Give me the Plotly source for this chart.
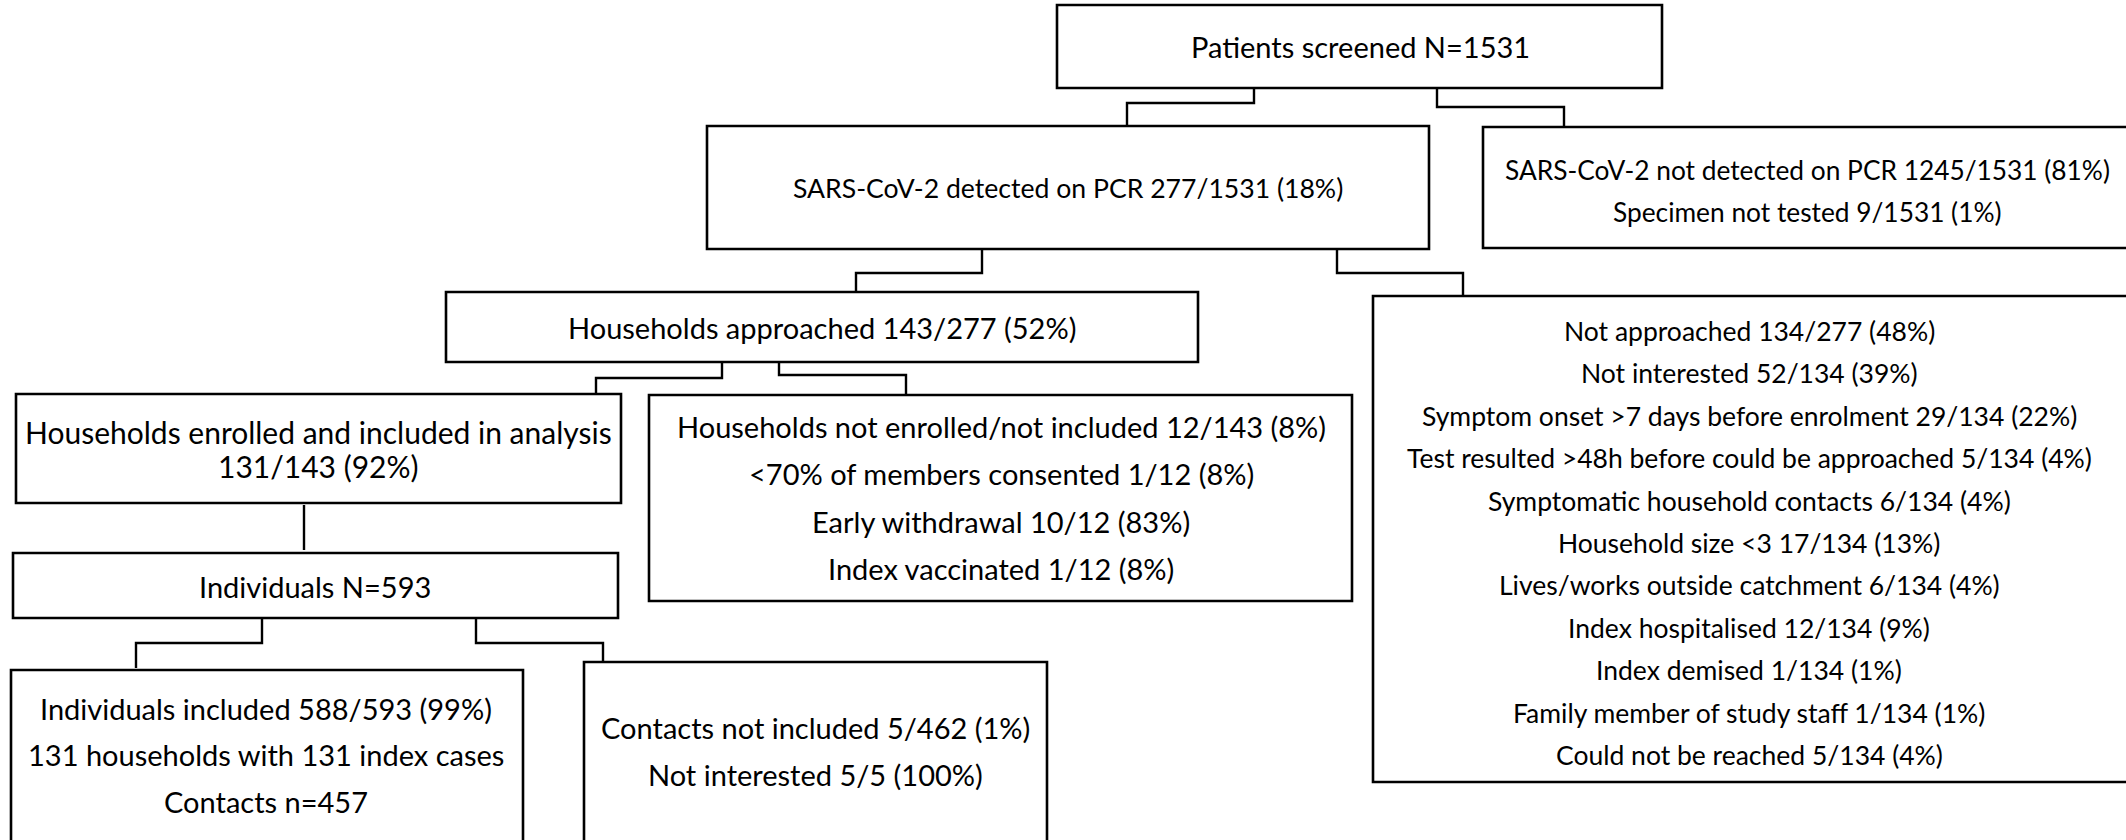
import plotly.graph_objects as go

# ---------------- text content (data) ----------------
screened_lines = ["Patients screened N=1531"]
detected_lines = ["SARS-CoV-2 detected on PCR 277/1531 (18%)"]
not_detected_lines = [
    "SARS-CoV-2 not detected on PCR 1245/1531 (81%)",
    "Specimen not tested 9/1531 (1%)",
]
approached_lines = ["Households approached 143/277 (52%)"]
not_approached_lines = [
    "Not approached 134/277 (48%)",
    "Not interested 52/134 (39%)",
    "Symptom onset >7 days before enrolment 29/134 (22%)",
    "Test resulted >48h before could be approached 5/134 (4%)",
    "Symptomatic household contacts 6/134 (4%)",
    "Household size <3 17/134 (13%)",
    "Lives/works outside catchment 6/134 (4%)",
    "Index hospitalised 12/134 (9%)",
    "Index demised 1/134 (1%)",
    "Family member of study staff 1/134 (1%)",
    "Could not be reached 5/134 (4%)",
]
enrolled_lines = ["Households enrolled and included in analysis", "131/143 (92%)"]
not_enrolled_lines = [
    "Households not enrolled/not included 12/143 (8%)",
    "<70% of members consented 1/12 (8%)",
    "Early withdrawal 10/12 (83%)",
    "Index vaccinated 1/12 (8%)",
]
individuals_lines = ["Individuals N=593"]
included_lines = [
    "Individuals included 588/593 (99%)",
    "131 households with 131 index cases",
    "Contacts n=457",
]
contacts_excl_lines = ["Contacts not included 5/462 (1%)", "Not interested 5/5 (100%)"]

# ---------------- layout geometry (pixel space) ----------------
W, H = 2126, 840
FONT = "Lato, 'Open Sans', sans-serif"
MAIN, SMALL = 29, 26.5

boxes = [
    # rect (x0, y0, x1, y1), text centre x, first line y, line step, font size, lines
    dict(rect=(1057, 5, 1662, 88), cx=1360, y=46, dy=0, size=MAIN, lines=screened_lines),
    dict(rect=(707, 126, 1429, 249), cx=1068, y=188, dy=0, size=26.6, lines=detected_lines),
    dict(rect=(1483, 127, 2140, 248), cx=1807, y=170, dy=42, size=26.3, lines=not_detected_lines),
    dict(rect=(446, 292, 1198, 362), cx=822, y=327, dy=0, size=MAIN, lines=approached_lines),
    dict(rect=(1373, 296, 2140, 782), cx=1749, y=331, dy=42.4, size=SMALL, lines=not_approached_lines),
    dict(rect=(16, 394, 621, 503), cx=318, y=432, dy=34, size=30, lines=enrolled_lines),
    dict(rect=(649, 395, 1352, 601), cx=1001, y=426, dy=47.5, size=MAIN, lines=not_enrolled_lines),
    dict(rect=(13, 553, 618, 618), cx=315, y=586, dy=0, size=MAIN, lines=individuals_lines),
    dict(rect=(11, 670, 523, 860), cx=266, y=708, dy=46.5, size=MAIN, lines=included_lines),
    dict(rect=(584, 662, 1047, 860), cx=815, y=727, dy=47, size=MAIN, lines=contacts_excl_lines),
]

connectors = [
    [(1254, 88), (1254, 103), (1127, 103), (1127, 126)],
    [(1437, 88), (1437, 107), (1564, 107), (1564, 127)],
    [(982, 249), (982, 273), (856, 273), (856, 292)],
    [(1337, 249), (1337, 273), (1463, 273), (1463, 296)],
    [(722, 362), (722, 378), (596, 378), (596, 394)],
    [(779, 362), (779, 375), (906, 375), (906, 395)],
    [(304, 505), (304, 550)],
    [(262, 618), (262, 643), (136, 643), (136, 668)],
    [(476, 618), (476, 643), (603, 643), (603, 662)],
]

fig = go.Figure()
# invisible trace so axes are established
fig.add_trace(go.Scatter(x=[0, W], y=[0, H], mode="markers",
                         marker=dict(opacity=0), hoverinfo="skip", showlegend=False))

shapes = []
annotations = []
for b in boxes:
    x0, y0, x1, y1 = b["rect"]
    shapes.append(dict(type="rect", xref="x", yref="y", x0=x0, y0=y0, x1=x1, y1=y1,
                       line=dict(color="black", width=2.6), fillcolor="white", layer="below"))
    for i, t in enumerate(b["lines"]):
        annotations.append(dict(x=b["cx"], y=b["y"] + i * b["dy"], xref="x", yref="y",
                                text=t.replace("<", "&lt;").replace(">", "&gt;"),
                                showarrow=False, xanchor="center", yanchor="middle",
                                font=dict(family=FONT, size=b["size"], color="black")))

for pts in connectors:
    xs = [p[0] for p in pts]
    ys = [p[1] for p in pts]
    fig.add_trace(go.Scatter(x=xs, y=ys, mode="lines", line=dict(color="black", width=2.4),
                             hoverinfo="skip", showlegend=False))

fig.update_layout(
    width=W, height=H,
    margin=dict(l=0, r=0, t=0, b=0),
    paper_bgcolor="white", plot_bgcolor="white",
    xaxis=dict(range=[0, W], visible=False, fixedrange=True),
    yaxis=dict(range=[H, 0], visible=False, fixedrange=True),
    shapes=shapes, annotations=annotations,
    showlegend=False,
)

fig.write_html("out.html", config={"displayModeBar": False},
               post_script="document.body.style.margin='0';")
